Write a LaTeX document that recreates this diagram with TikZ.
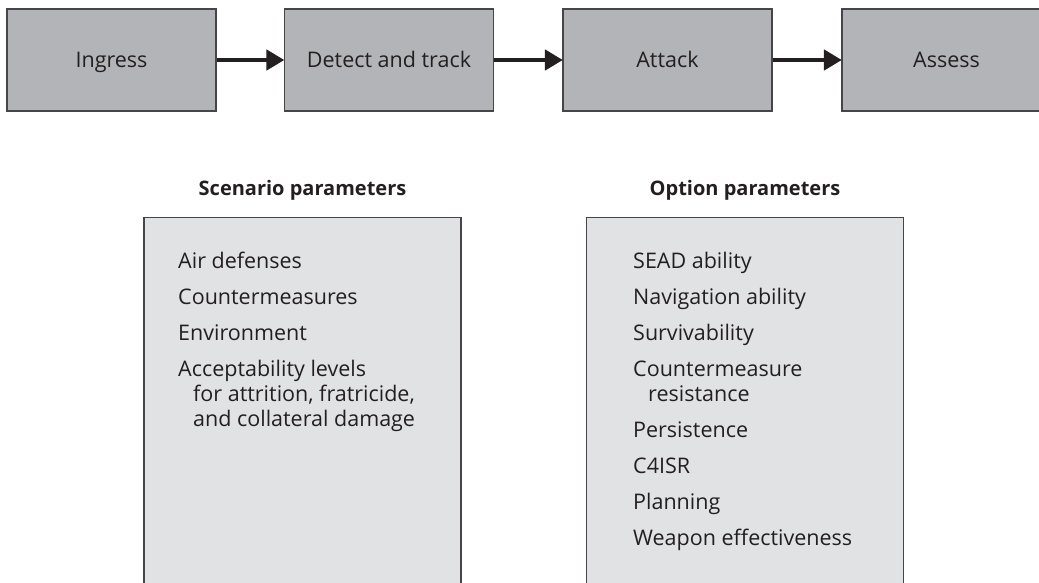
\documentclass[tikz,border=0pt]{standalone}
\usepackage{fontspec}
\setmainfont{Open Sans}
\usetikzlibrary{arrows.meta}
\definecolor{stagegray}{RGB}{179,180,183}
\definecolor{panelgray}{RGB}{225,226,228}
\definecolor{edgegray}{RGB}{70,70,72}
\definecolor{ink}{RGB}{35,31,32}
\tikzset{
  stagebox/.style={draw=edgegray, line width=1.2pt, fill=stagegray, minimum width=209pt,
    minimum height=102pt, inner sep=0pt, text=ink, text height=18pt, text depth=4pt,
    font=\fontsize{21.5}{24}\selectfont},
  panel/.style={draw=edgegray, line width=1.4pt, fill=panelgray, minimum width=317pt,
    minimum height=400pt, inner sep=0pt, anchor=north},
  flow/.style={line width=4.5pt, draw=ink, -{Triangle[length=18pt,width=20pt]}, shorten >=-0.5pt},
  heading/.style={anchor=base, text=ink, font=\bfseries\fontsize{20}{24}\selectfont},
  entry/.style={anchor=base west, text=ink, inner sep=0pt, font=\fontsize{21.5}{24}\selectfont}
}
\begin{document}
\begin{tikzpicture}[x=1pt,y=-1pt]
\useasboundingbox (0,0) rectangle (1039,582);
\clip (0,0) rectangle (1039,582);

% process chain
\node[stagebox] (ingress) at (111.5,60) {Ingress};
\node[stagebox] (detect)  at (389,60)   {Detect and track};
\node[stagebox] (attack)  at (667.5,60) {Attack};
\node[stagebox] (assess)  at (946.5,60) {Assess};
\draw[flow] (ingress) -- (detect);
\draw[flow] (detect) -- (attack);
\draw[flow] (attack) -- (assess);

% parameter panels
\node[heading] (scenhead) at (302.5,195) {Scenario parameters};
\node[heading] (opthead)  at (745,195)   {Option parameters};
\node[panel] (scen) at (302.5,217) {};
\node[panel] (opt)  at (745,217)   {};

% scenario list
\node[entry] (s1) at (178,268)   {Air defenses};
\node[entry] (s2) at (178,304)   {Countermeasures};
\node[entry] (s3) at (178,340)   {Environment};
\node[entry] (s4) at (178,376)   {Acceptability levels};
\node[entry] (s5) at (193,401)   {for attrition, fratricide,};
\node[entry] (s6) at (193,426)   {and collateral damage};

% option list
\node[entry] (o1) at (633,268)   {SEAD ability};
\node[entry] (o2) at (633,304)   {Navigation ability};
\node[entry] (o3) at (633,340)   {Survivability};
\node[entry] (o4) at (633,376)   {Countermeasure};
\node[entry] (o5) at (648,401)   {resistance};
\node[entry] (o6) at (633,437.5) {Persistence};
\node[entry] (o7) at (633,473.5) {C4ISR};
\node[entry] (o8) at (633,509.5) {Planning};
\node[entry] (o9) at (633,545.5) {Weapon effectiveness};
\end{tikzpicture}
\end{document}
